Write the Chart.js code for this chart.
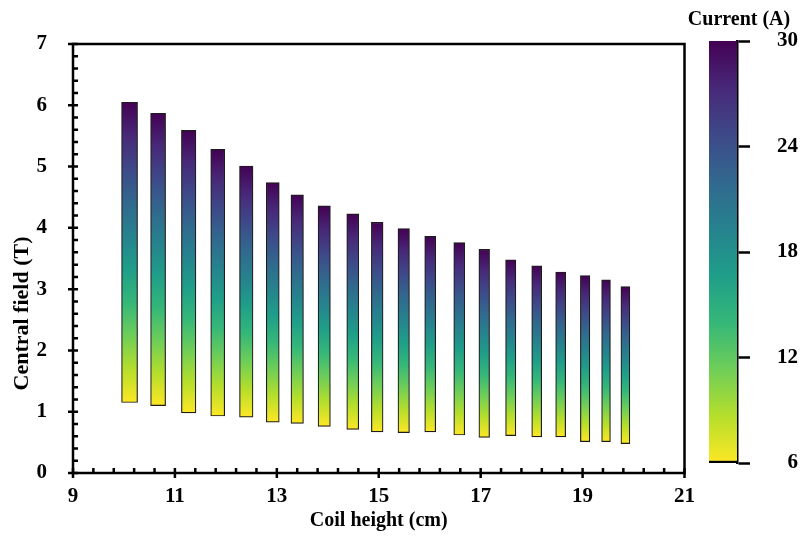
<!DOCTYPE html>
<html>
<head>
<meta charset="utf-8">
<title>Central field vs coil height</title>
<script src="https://cdn.jsdelivr.net/npm/chart.js@4.4.0/dist/chart.umd.min.js"></script>
<style>
  html, body { margin: 0; padding: 0; background: #fff; }
  #wrap { position: relative; width: 806px; height: 537px; }
  #fieldChart { position: absolute; left: 0; top: 0; }
  #scaleChart { position: absolute; left: 686px; top: 0; }
</style>
</head>
<body>
<div id="wrap">
  <canvas id="fieldChart" width="806" height="537"></canvas>
  <canvas id="scaleChart" width="120" height="537"></canvas>
</div>
<script>
// coil heights (cm) and the field range (T) reached between 6 A and 30 A
const coilHeights = [10.11, 10.67, 11.27, 11.84, 12.40, 12.92, 13.40, 13.93, 14.49, 14.97,
                     15.49, 16.01, 16.58, 17.07, 17.59, 18.10, 18.57, 19.05, 19.46, 19.84];
const fieldAtMin = [1.15, 1.10, 0.98, 0.93, 0.91, 0.83, 0.81, 0.76, 0.71, 0.67,
                    0.66, 0.67, 0.62, 0.58, 0.61, 0.59, 0.59, 0.51, 0.51, 0.48];
const fieldAtMax = [6.05, 5.87, 5.59, 5.28, 5.01, 4.74, 4.54, 4.36, 4.23, 4.09,
                    3.99, 3.86, 3.76, 3.65, 3.48, 3.38, 3.28, 3.22, 3.15, 3.04];
const currentRange = [6, 30];
const currentTicks = [6, 12, 18, 24, 30];

// bar thickness in px, narrowing with height
const barWidths = [16, 15, 14.5, 14, 13.5, 13, 12.5, 12.3, 12, 11.7,
                   11.5, 11, 11, 10.7, 10.3, 10, 10, 9.5, 8.8, 9];

const viridis = ['#440154', '#482878', '#3e4989', '#31688e', '#26828e',
                 '#1f9e89', '#35b779', '#6ece58', '#b5de2b', '#fde725'];

const FONT = "'Times New Roman', 'Liberation Serif', serif";

// yellow at the low end, purple at the high end
function viridisGradient(ctx, yLow, yHigh) {
  const g = ctx.createLinearGradient(0, yLow, 0, yHigh);
  for (let i = 0; i < viridis.length; i++) {
    g.addColorStop(i / (viridis.length - 1), viridis[viridis.length - 1 - i]);
  }
  return g;
}

// closed frame + major/minor ticks, plus the rotated y title
const frameTicks = {
  id: 'frameTicks',
  afterDraw(chart) {
    const { ctx, chartArea: a, scales: { x, y } } = chart;
    ctx.save();
    ctx.strokeStyle = '#000';
    ctx.lineWidth = 2.5;
    ctx.strokeRect(a.left, a.top, a.right - a.left, a.bottom - a.top);

    ctx.beginPath();
    for (let k = 0; k <= 35; k++) {
      const py = y.getPixelForValue(k / 5);
      const major = k % 5 === 0;
      ctx.moveTo(a.left - (major ? 5 : 0), py);
      ctx.lineTo(a.left + 5, py);
    }
    for (let k = 0; k <= 30; k++) {
      const px = x.getPixelForValue(9 + k * 0.4);
      const major = k % 5 === 0;
      ctx.moveTo(px, a.bottom + (major ? 5 : 0));
      ctx.lineTo(px, a.bottom - 5);
    }
    ctx.stroke();

    ctx.fillStyle = '#000';
    ctx.font = 'bold 22px ' + FONT;
    ctx.textAlign = 'center';
    ctx.textBaseline = 'middle';
    ctx.translate(22, (a.top + a.bottom) / 2 + 55);
    ctx.rotate(-Math.PI / 2);
    ctx.fillText('Central field (T)', 0, 0);
    ctx.restore();
  }
};

const datasets = coilHeights.map((h, i) => ({
  data: [{ x: h, y: [fieldAtMin[i], fieldAtMax[i]] }],
  grouped: false,
  barPercentage: 1,
  categoryPercentage: 1,
  maxBarThickness: barWidths[i],
  borderColor: '#1c1c1c',
  borderWidth: 1.2,
  borderSkipped: false,
  backgroundColor: (c) => {
    const chart = c.chart;
    if (!chart.chartArea) return viridis[5];
    const ys = chart.scales.y;
    return viridisGradient(chart.ctx, ys.getPixelForValue(fieldAtMin[i]), ys.getPixelForValue(fieldAtMax[i]));
  }
}));

new Chart(document.getElementById('fieldChart'), {
  type: 'bar',
  data: { datasets },
  options: {
    responsive: false,
    animation: false,
    layout: { padding: { left: 0, top: 44, right: 121.5, bottom: 0 } },
    plugins: { legend: { display: false }, tooltip: { enabled: false } },
    scales: {
      x: {
        type: 'linear',
        offset: false,
        min: 9,
        max: 21,
        afterFit: (s) => { s.height = 64; },
        grid: { display: false, drawTicks: false },
        border: { display: false },
        ticks: { stepSize: 2, padding: 11, color: '#000', font: { family: FONT, size: 21, weight: 'bold' } },
        title: {
          display: true,
          text: 'Coil height (cm)',
          color: '#000',
          padding: { top: 0, bottom: 4 },
          font: { family: FONT, size: 20, weight: 'bold' }
        }
      },
      y: {
        min: 0,
        max: 7,
        afterFit: (s) => { s.width = 73; },
        grid: { display: false, drawTicks: false },
        border: { display: false },
        ticks: { stepSize: 1, padding: 26, color: '#000', font: { family: FONT, size: 21, weight: 'bold' } }
      }
    }
  },
  plugins: [frameTicks]
});

// colour bar for the current
const barTitle = {
  id: 'barTitle',
  afterDraw(chart) {
    const ctx = chart.ctx;
    ctx.save();
    ctx.fillStyle = '#000';
    ctx.font = 'bold 20px ' + FONT;
    ctx.textAlign = 'center';
    ctx.textBaseline = 'middle';
    ctx.fillText('Current (A)', 53, 20);
    ctx.restore();
  }
};

new Chart(document.getElementById('scaleChart'), {
  type: 'bar',
  data: {
    labels: ['Current'],
    datasets: [{
      data: [currentRange],
      barPercentage: 1,
      categoryPercentage: 1,
      borderColor: '#000',
      borderWidth: { top: 0, left: 0, right: 0, bottom: 2.5 },
      borderSkipped: false,
      backgroundColor: (c) => {
        const chart = c.chart;
        if (!chart.chartArea) return viridis[5];
        const ys = chart.scales.y;
        return viridisGradient(chart.ctx, ys.getPixelForValue(currentRange[0]), ys.getPixelForValue(currentRange[1]));
      }
    }]
  },
  options: {
    responsive: false,
    animation: false,
    layout: { padding: { left: 23, top: 41, right: 8, bottom: 74 } },
    plugins: { legend: { display: false }, tooltip: { enabled: false } },
    scales: {
      x: { display: false },
      y: {
        position: 'right',
        min: currentRange[0],
        max: currentRange[1],
        afterFit: (s) => { s.width = 61; },
        afterBuildTicks: (s) => { s.ticks = currentTicks.map(v => ({ value: v })); },
        grid: { drawOnChartArea: false, drawTicks: true, tickLength: 13, tickWidth: 2.5, tickColor: '#000' },
        border: { display: true, width: 2.5, color: '#000' },
        ticks: { padding: 20, crossAlign: 'far', color: '#000', font: { family: FONT, size: 21, weight: 'bold' } }
      }
    }
  },
  plugins: [barTitle]
});
</script>
</body>
</html>
